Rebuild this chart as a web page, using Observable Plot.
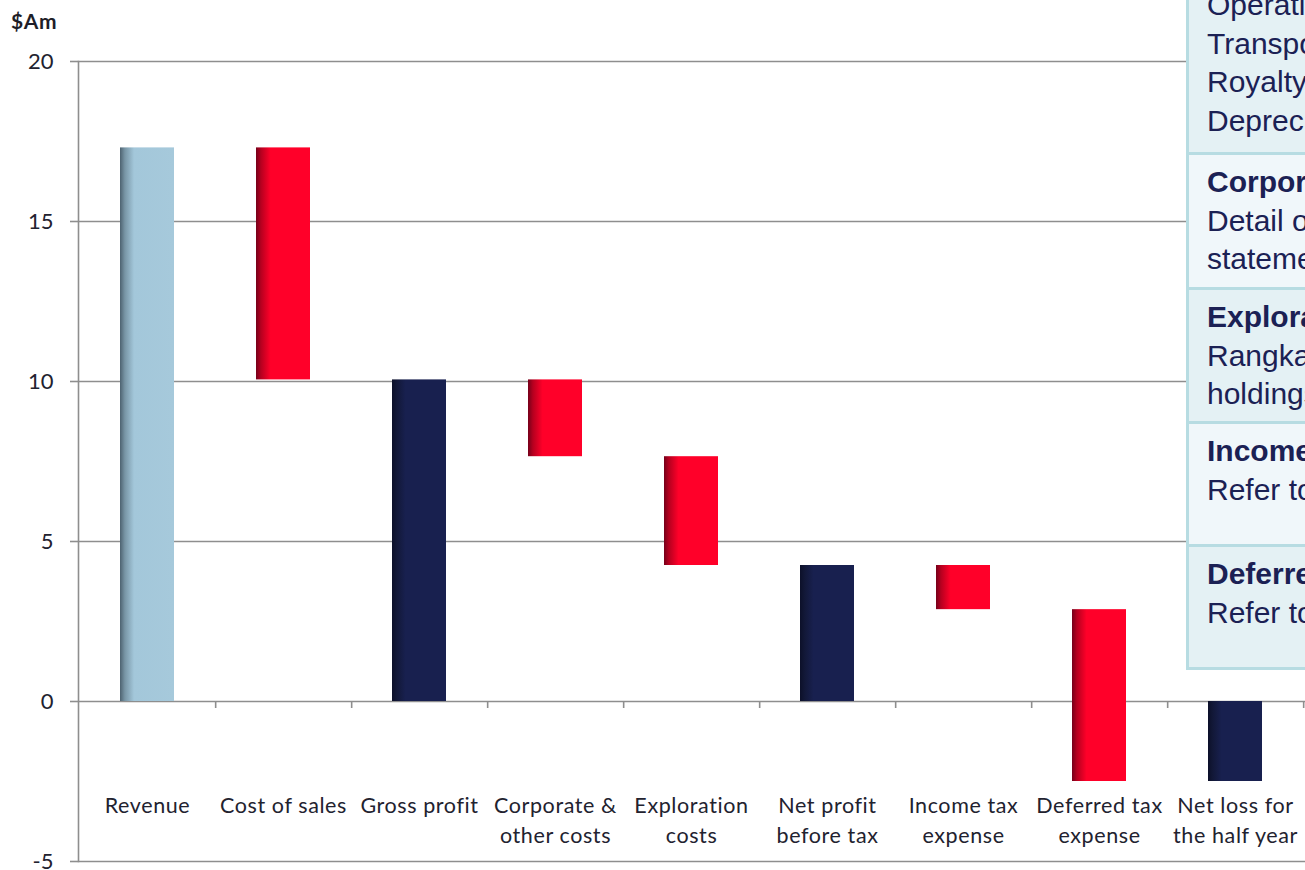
<!DOCTYPE html>
<html>
<head>
<meta charset="utf-8">
<script src="https://cdn.jsdelivr.net/npm/d3@7"></script>
<script src="https://cdn.jsdelivr.net/npm/@observablehq/plot@0.6"></script>
<style>
  html, body { margin: 0; padding: 0; background: #fff; width: 1305px; height: 870px; overflow: hidden; position: relative; }
  #chart { position: absolute; left: 0; top: 0; }
  #chart g[aria-label="x-axis tick label"] text { letter-spacing: 0.6px; }
  #unit { position: absolute; left: 11px; top: 8px; font: bold 21px Lato, sans-serif; color: #1e1e28; letter-spacing: 0.6px; }
  #notes { position: absolute; left: 1186px; top: 0; width: 420px; height: 870px; pointer-events: none; }
  .sec { position: absolute; left: 0; width: 100%; box-sizing: border-box;
         border-left: 3px solid #b7dce2; border-bottom: 3px solid #b7dce2;
         padding: 8px 0 0 18px; font: 30px/38.5px "Liberation Sans", Arial, sans-serif;
         color: #1b2154; white-space: nowrap; overflow: hidden; }
  .dark { background: #e4f1f4; }
  .light { background: #f0f7fa; }
  .sec b { font-weight: bold; }
</style>
</head>
<body>
<div id="chart"></div>
<div id="unit">$Am</div>
<div id="notes">
  <div class="sec dark" style="top:-22px;height:177px">Operating costs<br>Transport<br>Royalty<br>Depreciation</div>
  <div class="sec light" style="top:155px;height:135px"><b>Corporate &amp; other costs</b><br>Detail of costs in the<br>statement of profit or loss</div>
  <div class="sec dark" style="top:290px;height:134px"><b>Exploration costs</b><br>Rangkas project and<br>holdings</div>
  <div class="sec light" style="top:424px;height:123px"><b>Income tax expense</b><br>Refer to note</div>
  <div class="sec dark" style="top:547px;height:123px"><b>Deferred tax expense</b><br>Refer to note</div>
</div>
<script>
// Half-year result walk, $A millions
const categories = [
  "Revenue", "Cost of sales", "Gross profit", "Corporate & other costs",
  "Exploration costs", "Net profit before tax", "Income tax expense",
  "Deferred tax expense", "Net loss for the half year"
];
const tickLabels = [
  "Revenue", "Cost of sales", "Gross profit", "Corporate &\nother costs",
  "Exploration\ncosts", "Net profit\nbefore tax", "Income tax\nexpense",
  "Deferred tax\nexpense", "Net loss for\nthe half year"
];
// step kinds: "start" opens the walk, "change" moves it, "total" is a subtotal from zero
const kinds   = ["start", "change", "total", "change", "change", "total", "change", "change", "total"];
const amounts = [17.3,    -7.25,    null,    -2.4,     -3.4,     null,    -1.38,    -5.37,    null];
const yTicks  = [-5, 0, 5, 10, 15, 20];

// running totals give each bar its floating base and top
let running = 0;
const steps = categories.map((name, i) => {
  if (kinds[i] === "total") return {name, kind: "total", y1: 0, y2: running};
  const from = running;
  running += amounts[i];
  return kinds[i] === "start"
    ? {name, kind: "start", y1: 0, y2: running}
    : {name, kind: "change", y1: from, y2: running};
});

const width = 1305, height = 870;
const marginLeft = 78, marginRight = 0, marginTop = 61, marginBottom = 9;
const step = (width - marginLeft - marginRight) / categories.length;
const labelOf = new Map(categories.map((c, i) => [c, tickLabels[i]]));
const axisGray = "#8e8e8e";
const textColor = "#22222f";

const chart = Plot.plot({
  width, height, marginLeft, marginRight, marginTop, marginBottom,
  style: {fontFamily: "Lato, sans-serif", background: "transparent"},
  x: {domain: categories, paddingInner: 0.6, paddingOuter: 0.3, label: null},
  y: {domain: [-5, 20], label: null},
  marks: [
    Plot.gridY(yTicks, {stroke: axisGray, strokeOpacity: 1, strokeWidth: 1.6}),
    Plot.frame({anchor: "left", stroke: axisGray, strokeWidth: 1.6}),
    Plot.axisY(yTicks, {
      tickSize: 8, tickPadding: 17, fontSize: 22, stroke: axisGray, strokeWidth: 1.6,
      fill: textColor, tickFormat: d => String(d), label: null
    }),
    // small ticks below the zero line between categories
    Plot.ruleX(categories, {x: d => d, y1: 0, y2: 0, dx: step / 2, insetBottom: -7, stroke: axisGray, strokeWidth: 1.6}),
    Plot.axisX({
      anchor: "bottom", tickSize: 0, tickPadding: 0, dy: -70,
      fontSize: 21.5, lineHeight: 1.4, fill: textColor,
      tickFormat: d => labelOf.get(d), label: null
    }),
    Plot.barY(steps.filter(d => d.kind === "start"),  {x: "name", y1: "y1", y2: "y2", fill: "url(#fill-start)"}),
    Plot.barY(steps.filter(d => d.kind === "change"), {x: "name", y1: "y1", y2: "y2", fill: "url(#fill-change)"}),
    Plot.barY(steps.filter(d => d.kind === "total"),  {x: "name", y1: "y1", y2: "y2", fill: "url(#fill-total)"})
  ]
});

// shaded bar fills: darker left edge fading into the flat colour
const defs = d3.select(chart).insert("defs", ":first-child");
const shades = {
  "fill-start":  [["0%", "#4d6270"], ["9%", "#7895a5"], ["26%", "#a3c7da"], ["100%", "#a6c9db"]],
  "fill-change": [["0%", "#75001a"], ["9%", "#b5001f"], ["27%", "#ff0029"], ["100%", "#ff0029"]],
  "fill-total":  [["0%", "#0c1029"], ["9%", "#121838"], ["25%", "#18204f"], ["100%", "#18204f"]]
};
for (const [id, stops] of Object.entries(shades)) {
  const g = defs.append("linearGradient").attr("id", id).attr("x1", 0).attr("x2", 1).attr("y1", 0).attr("y2", 0);
  for (const [offset, color] of stops) g.append("stop").attr("offset", offset).attr("stop-color", color);
}

document.getElementById("chart").append(chart);
</script>
</body>
</html>
